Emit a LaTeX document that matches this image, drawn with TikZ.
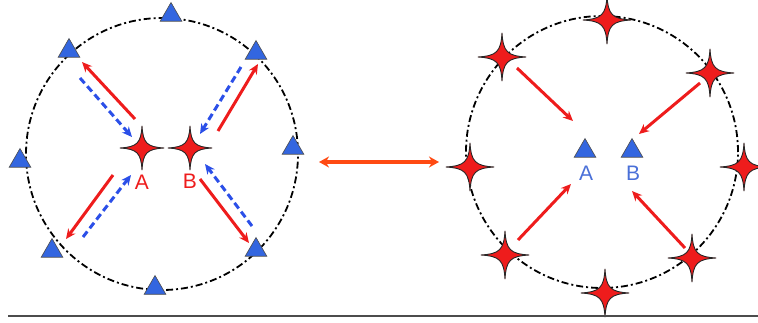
\documentclass[tikz,border=0pt]{standalone}
\usepackage{fontspec}
\setmainfont{Liberation Sans}
\usetikzlibrary{shapes.geometric,arrows.meta}
\definecolor{sred}{HTML}{EE1C1C}
\definecolor{ablue}{HTML}{2B4FE8}
\definecolor{tblue}{HTML}{3366E0}
\definecolor{lblue}{HTML}{4A70D8}
\definecolor{dorange}{HTML}{FF4A12}
\tikzset{
  starbody/.style={fill=sred, draw=black!85, line width=0.9pt, line join=round},
  trinode/.style={regular polygon, regular polygon sides=3, inner sep=0pt,
    minimum size=25pt, fill=tblue, draw=black!70, line width=0.6pt},
  ring/.style={draw=black, line width=1.8pt, dash pattern=on 7pt off 3pt on 2pt off 3pt},
  redarrow/.style={draw=sred, line width=3pt, -{Stealth[length=10pt,width=9pt]}},
  bluearrow/.style={draw=ablue, line width=3pt, dash pattern=on 7pt off 4pt, -{Stealth[length=10pt,width=9pt]}},
  lab/.style={font=\fontsize{21}{22}\selectfont, inner sep=0pt}
}
% #1 name, #2 position, #3 outer radius (pt)
\newcommand\drawstar[3]{%
  \node[circle, inner sep=0pt, minimum size=#3*2pt] (#1) at (#2) {};
  \path[starbody, shift={(#1.center)}, scale=#3]
    (0,-1) .. controls (0.05,-0.22) and (0.22,-0.05) .. (1,0)
    .. controls (0.22,0.05) and (0.05,0.22) .. (0,1)
    .. controls (-0.05,0.22) and (-0.22,0.05) .. (-1,0)
    .. controls (-0.22,-0.05) and (-0.05,-0.22) .. (0,-1) -- cycle;
}
\begin{document}
\begin{tikzpicture}[x=1pt,y=-1pt]
\useasboundingbox (0,0) rectangle (758,323);
% left panel
\node[ring, circle, minimum size=272pt, inner sep=0pt] (lc) at (162,154) {};
\node[trinode] (t1) at (171,15) {};
\node[trinode] (t2) at (69,51) {};
\node[trinode] (t3) at (256,53) {};
\node[trinode] (t4) at (20,161) {};
\node[trinode] (t5) at (293,148) {};
\node[trinode] (t6) at (52,251) {};
\node[trinode] (t7) at (256,250) {};
\node[trinode] (t8) at (155,288) {};
\drawstar{A}{142,148}{22}
\drawstar{B}{190,148}{22}
\node[lab, text=sred] (la) at (142,182) {A};
\node[lab, text=sred] (lb) at (190,181) {B};
% left arrows
\coordinate (r1s) at (135,119); \coordinate (r1e) at (82,62);
\coordinate (b1s) at (80,78);   \coordinate (b1e) at (132,137);
\coordinate (r2s) at (218,131); \coordinate (r2e) at (258,64);
\coordinate (b2s) at (241,67);  \coordinate (b2e) at (200,134);
\coordinate (r3s) at (113,175); \coordinate (r3e) at (66,239);
\coordinate (b3s) at (83,237);  \coordinate (b3e) at (131,175);
\coordinate (r4s) at (200,179); \coordinate (r4e) at (249,243);
\coordinate (b4s) at (252,226); \coordinate (b4e) at (205,164);
\draw[redarrow] (r1s) -- (r1e);
\draw[bluearrow] (b1s) -- (b1e);
\draw[redarrow] (r2s) -- (r2e);
\draw[bluearrow] (b2s) -- (b2e);
\draw[redarrow] (r3s) -- (r3e);
\draw[bluearrow] (b3s) -- (b3e);
\draw[redarrow] (r4s) -- (r4e);
\draw[bluearrow] (b4s) -- (b4e);
% middle double arrow
\coordinate (m1) at (319,162); \coordinate (m2) at (439,162);
\draw[draw=dorange, line width=3.5pt, {Stealth[length=10pt,width=11pt]}-{Stealth[length=10pt,width=11pt]}] (m1) -- (m2);
% right panel
\node[ring, circle, minimum size=272pt, inner sep=0pt] (rc) at (602,152) {};
\drawstar{s1}{607,20}{24}
\drawstar{s2}{502,57}{24}
\drawstar{s3}{710,73}{24}
\drawstar{s4}{470,167}{24}
\drawstar{s5}{744,167}{24}
\drawstar{s6}{505,255}{24}
\drawstar{s7}{692,258}{24}
\drawstar{s8}{605,293}{24}
\node[trinode] (TA) at (585,151) {};
\node[trinode] (TB) at (632,151) {};
\node[lab, text=lblue] (lta) at (586,173) {A};
\node[lab, text=lblue] (ltb) at (633,173) {B};
\coordinate (q1s) at (517,68);  \coordinate (q1e) at (573,121);
\coordinate (q2s) at (700,83);  \coordinate (q2e) at (639,134);
\coordinate (q3s) at (518,240); \coordinate (q3e) at (571,184);
\coordinate (q4s) at (685,248); \coordinate (q4e) at (632,191);
\draw[redarrow] (q1s) -- (q1e);
\draw[redarrow] (q2s) -- (q2e);
\draw[redarrow] (q3s) -- (q3e);
\draw[redarrow] (q4s) -- (q4e);
% bottom rule
\coordinate (h1) at (8,316); \coordinate (h2) at (758,316);
\draw[draw=black!70, line width=1.2pt] (h1) -- (h2);
\end{tikzpicture}
\end{document}
